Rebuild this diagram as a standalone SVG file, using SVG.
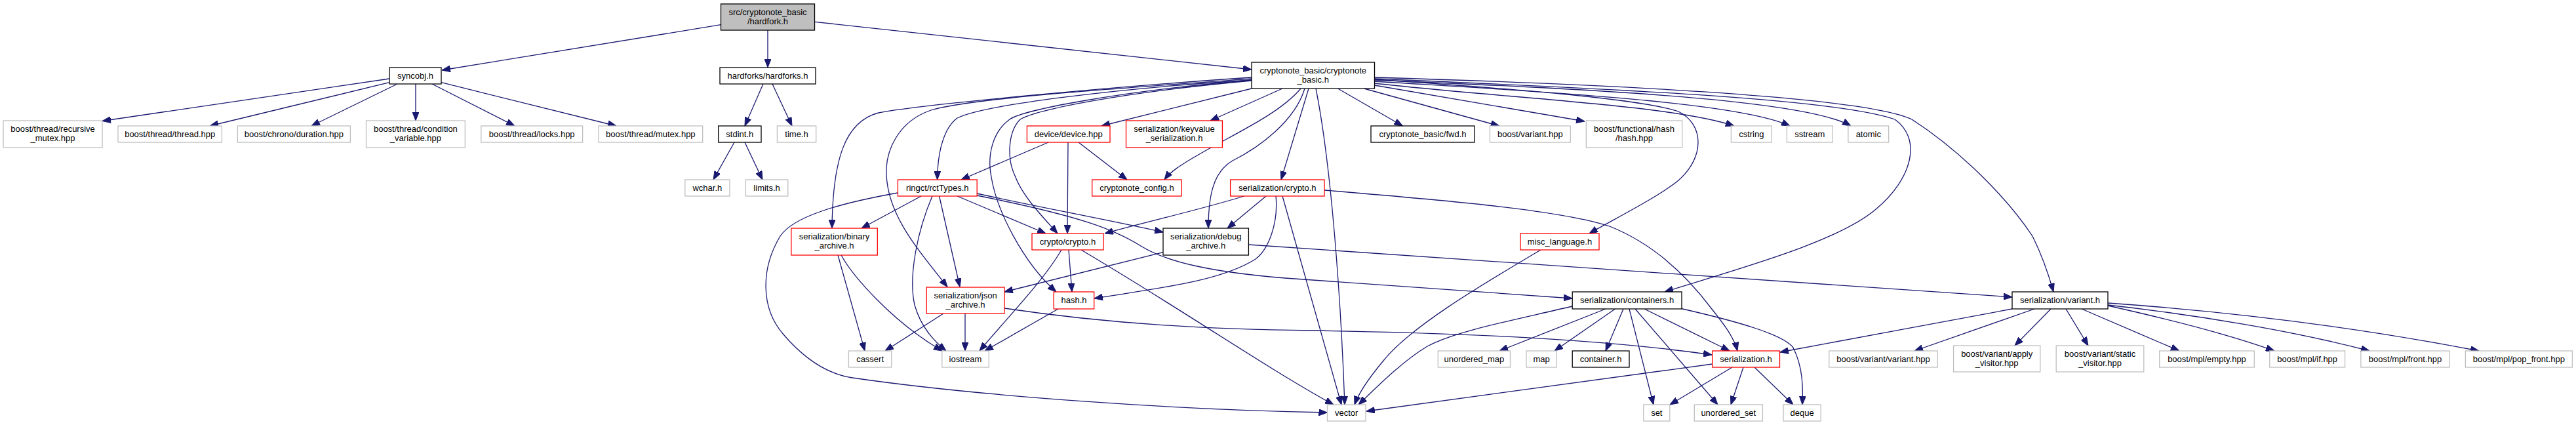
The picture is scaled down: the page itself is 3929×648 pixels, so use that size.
<svg xmlns="http://www.w3.org/2000/svg" width="3929" height="648" viewBox="0 0 3929 648">
<style>
rect{fill:#fff;stroke-width:1.3}
.k rect{stroke:#000}
.r rect{stroke:#ff0000}
.g rect{stroke:#bfbfbf}
.root rect{fill:#bfbfbf;stroke:#000}
text{font-family:"Liberation Sans",Arial,sans-serif;font-size:13px;text-anchor:middle;fill:#000}
#edges path{fill:none;stroke:#191970;stroke-width:1.3;marker-end:url(#ah)}
</style>
<defs>
<marker id="ah" viewBox="0 0 13 10" refX="13" refY="5" markerWidth="13" markerHeight="10" markerUnits="userSpaceOnUse" orient="auto">
<path d="M0,0 L13,5 L0,10 z" fill="#191970" stroke="#191970" stroke-width="1"/>
</marker>
</defs>
<rect x="0" y="0" width="3929" height="648" style="fill:#fff;stroke:none"/>
<g id="edges">
<path d="M1099.5,37.7 L674,107"/>
<path d="M1171,46 L1171,103"/>
<path d="M1242.6,33.3 L1909,106"/>
<path d="M594,120 L156,184.5"/>
<path d="M594,125.7 L320,192"/>
<path d="M606,128 L475,192"/>
<path d="M634,128 L634,184"/>
<path d="M659,128 L785,192"/>
<path d="M673,125.7 L940,192"/>
<path d="M1164,128 L1136,192"/>
<path d="M1178,128 L1208,192"/>
<path d="M1120,217 L1088,274"/>
<path d="M1136,217 L1163,274"/>
<path d="M1909,118 C1700,132 1400,160 1340,172 C1290,185 1270,240 1269,348"/>
<path d="M1909,120 C1700,135 1480,150 1420,168 C1370,185 1350,230 1352,267 C1355,330 1400,380 1445,437.5"/>
<path d="M1909,122 C1700,135 1500,160 1460,180 C1440,195 1430,230 1429.6,274"/>
<path d="M1909,122 C1700,140 1560,168 1540,182 C1515,200 1505,235 1512,270 C1520,320 1560,400 1611,445"/>
<path d="M1909,123 C1700,142 1580,168 1556,182 C1538,200 1535,240 1548,268 C1560,300 1590,330 1613,356"/>
<path d="M1909,135 L1680,192"/>
<path d="M1956,135 L1846,184"/>
<path d="M1984,135 C1950,175 1880,205 1826,237 C1800,252 1785,262 1776,274"/>
<path d="M1990,135 C1975,185 1920,225 1880,245 C1850,262 1843,300 1843,348"/>
<path d="M1996,135 L1954,274"/>
<path d="M2007,135 C2030,250 2045,450 2051,617"/>
<path d="M2040.5,135 L2139.4,192"/>
<path d="M2080.5,135 L2286.7,192"/>
<path d="M2096.5,130 L2417,185"/>
<path d="M2096.5,127 C2300,150 2550,160 2645,192"/>
<path d="M2096.5,124 C2350,140 2650,155 2730,192"/>
<path d="M2096.5,122 C2400,135 2750,150 2823,192"/>
<path d="M2096.5,120 C2450,135 2800,150 2890,182 C2930,210 2920,270 2860,320 C2800,370 2650,410 2539,445"/>
<path d="M2096.5,118 C2500,130 2850,150 2916,182 C2990,230 3060,300 3100,360 C3115,390 3125,420 3132,445"/>
<path d="M2096.5,121 C2300,135 2500,150 2560,170 C2600,190 2600,240 2560,275 C2530,300 2460,335 2424,356"/>
<path d="M1405,299 L1314,348"/>
<path d="M1422,299 C1400,350 1385,420 1395,465 C1405,500 1425,520 1443,535"/>
<path d="M1432.6,299 L1464,437.5"/>
<path d="M1460,299 L1595,356"/>
<path d="M1490,295 C1580,315 1690,335 1774,354"/>
<path d="M1490,298 C1650,330 1700,350 1740,375 C1780,400 1850,415 1960,424 C2150,437 2300,447 2398,455"/>
<path d="M1369.4,294 C1280,310 1210,330 1190,360 C1160,410 1160,470 1195,510 C1225,545 1260,570 1300,576 C1500,605 1800,625 2024.5,629"/>
<path d="M1599,217 L1466,274"/>
<path d="M1629,217 L1628,356"/>
<path d="M1645,217 L1719,274"/>
<path d="M1897.6,299 C1830,320 1740,340 1685,356"/>
<path d="M1931,299 L1872,348"/>
<path d="M1946,299 C1950,340 1935,380 1915,395 C1860,430 1760,440 1669,455"/>
<path d="M1956,299 L2046,617"/>
<path d="M2020,290 C2200,305 2380,320 2455,345 C2530,375 2580,430 2610,470 C2630,495 2645,515 2650,535"/>
<path d="M1774,384.7 L1532,445"/>
<path d="M1904.4,373 L3069,453"/>
<path d="M1619,381 C1590,430 1540,480 1494,535"/>
<path d="M1630,381 L1635,445"/>
<path d="M1649,381 C1800,470 1930,560 2034,617"/>
<path d="M1278,389 L1319,535"/>
<path d="M1283,389 C1300,420 1360,490 1437,535"/>
<path d="M1439,478 L1350,535"/>
<path d="M1472,478 L1472,535"/>
<path d="M1532,470 C1700,495 1850,502 2000,504 C2250,508 2450,518 2611,541"/>
<path d="M1614,471 L1502,535"/>
<path d="M2350,381 C2250,440 2150,500 2110,550 C2085,580 2072,600 2066,617"/>
<path d="M2398,467 C2300,490 2220,505 2177,528 C2140,550 2100,590 2072,617"/>
<path d="M2449,471 L2287,535"/>
<path d="M2463.5,471 L2371,535"/>
<path d="M2476,471 L2449,535"/>
<path d="M2485,471 L2522,617"/>
<path d="M2494,471 L2620,617"/>
<path d="M2508,471 L2638,535"/>
<path d="M2562,470 C2650,490 2720,510 2735,530 C2750,560 2750,590 2749,617"/>
<path d="M2611.8,555 L2084,627"/>
<path d="M2642,560 L2547,617"/>
<path d="M2659,560 L2640,617"/>
<path d="M2676,560 L2735,617"/>
<path d="M3069,471 L2715,537"/>
<path d="M3103,471 L2920,535"/>
<path d="M3128,471 L3073,527"/>
<path d="M3151,471 L3185,527"/>
<path d="M3175,471 L3324,535"/>
<path d="M3215,466 C3300,485 3400,510 3469,535"/>
<path d="M3215,465 C3350,480 3500,505 3614,535"/>
<path d="M3215,462 C3400,475 3600,500 3781,535"/>
</g>
<g id="n_hardfork" class="root"><rect x="1099.5" y="6" width="143" height="40"/><text x="1171" y="22.5">src/cryptonote_basic</text><text x="1171" y="36.5">/hardfork.h</text></g>
<g id="n_syncobj" class="k"><rect x="594" y="103" width="79" height="25"/><text x="633.5" y="120">syncobj.h</text></g>
<g id="n_hardforks" class="k"><rect x="1098" y="103" width="146" height="25"/><text x="1171" y="120">hardforks/hardforks.h</text></g>
<g id="n_cnbasic" class="k"><rect x="1909" y="95" width="187.5" height="40"/><text x="2002.7" y="111.5">cryptonote_basic/cryptonote</text><text x="2002.7" y="125.5">_basic.h</text></g>
<g id="n_recmutex" class="g"><rect x="5" y="184" width="151" height="41"/><text x="80.5" y="201">boost/thread/recursive</text><text x="80.5" y="215">_mutex.hpp</text></g>
<g id="n_thread" class="g"><rect x="180" y="192" width="158.4" height="25"/><text x="259.2" y="209">boost/thread/thread.hpp</text></g>
<g id="n_duration" class="g"><rect x="362.4" y="192" width="172" height="25"/><text x="448.4" y="209">boost/chrono/duration.hpp</text></g>
<g id="n_condvar" class="g"><rect x="558.5" y="184" width="150.8" height="41"/><text x="633.9" y="201">boost/thread/condition</text><text x="633.9" y="215">_variable.hpp</text></g>
<g id="n_locks" class="g"><rect x="733.8" y="192" width="154.8" height="25"/><text x="811.2" y="209">boost/thread/locks.hpp</text></g>
<g id="n_mutex" class="g"><rect x="913" y="192" width="158.7" height="25"/><text x="992.3" y="209">boost/thread/mutex.hpp</text></g>
<g id="n_stdint" class="k"><rect x="1095.7" y="192" width="65.3" height="25"/><text x="1128.3" y="209">stdint.h</text></g>
<g id="n_time" class="g"><rect x="1185.4" y="192" width="59.3" height="25"/><text x="1215" y="209">time.h</text></g>
<g id="n_device" class="r"><rect x="1566.4" y="192" width="126.6" height="25"/><text x="1629.7" y="209">device/device.hpp</text></g>
<g id="n_keyvalue" class="r"><rect x="1717.5" y="184" width="146.9" height="41"/><text x="1791" y="201">serialization/keyvalue</text><text x="1791" y="215">_serialization.h</text></g>
<g id="n_fwd" class="k"><rect x="2091" y="192" width="158" height="25"/><text x="2170" y="209">cryptonote_basic/fwd.h</text></g>
<g id="n_bvariant" class="g"><rect x="2272.4" y="192" width="122.9" height="25"/><text x="2333.8" y="209">boost/variant.hpp</text></g>
<g id="n_bhash" class="g"><rect x="2419.3" y="184" width="146.4" height="41"/><text x="2492.5" y="201">boost/functional/hash</text><text x="2492.5" y="215">/hash.hpp</text></g>
<g id="n_cstring" class="g"><rect x="2640.4" y="192" width="61.9" height="25"/><text x="2671.3" y="209">cstring</text></g>
<g id="n_sstream" class="g"><rect x="2725.4" y="192" width="69.9" height="25"/><text x="2760.3" y="209">sstream</text></g>
<g id="n_atomic" class="g"><rect x="2818.9" y="192" width="61.8" height="25"/><text x="2849.8" y="209">atomic</text></g>
<g id="n_wchar" class="g"><rect x="1044.8" y="274" width="68.2" height="25"/><text x="1078.9" y="291">wchar.h</text></g>
<g id="n_limits" class="g"><rect x="1137.4" y="274" width="64.4" height="25"/><text x="1169.6" y="291">limits.h</text></g>
<g id="n_rcttypes" class="r"><rect x="1369.4" y="274" width="120.8" height="25"/><text x="1429.8" y="291">ringct/rctTypes.h</text></g>
<g id="n_config" class="r"><rect x="1665.7" y="274" width="136.4" height="25"/><text x="1733.9" y="291">cryptonote_config.h</text></g>
<g id="n_sercrypto" class="r"><rect x="1876.6" y="274" width="143.4" height="25"/><text x="1948.3" y="291">serialization/crypto.h</text></g>
<g id="n_binarch" class="r"><rect x="1206.8" y="348" width="131.5" height="41"/><text x="1272.5" y="365">serialization/binary</text><text x="1272.5" y="379">_archive.h</text></g>
<g id="n_crypto" class="r"><rect x="1574" y="356" width="109" height="25"/><text x="1628.5" y="373">crypto/crypto.h</text></g>
<g id="n_debugarch" class="k"><rect x="1774" y="348" width="130.4" height="41"/><text x="1839.2" y="365">serialization/debug</text><text x="1839.2" y="379">_archive.h</text></g>
<g id="n_misclang" class="r"><rect x="2319" y="356" width="120" height="25"/><text x="2379" y="373">misc_language.h</text></g>
<g id="n_jsonarch" class="r"><rect x="1413.2" y="438" width="118.8" height="40"/><text x="1472.6" y="454.5">serialization/json</text><text x="1472.6" y="468.5">_archive.h</text></g>
<g id="n_hash" class="r"><rect x="1607.2" y="445" width="61.5" height="26"/><text x="1638" y="462">hash.h</text></g>
<g id="n_containers" class="k"><rect x="2398.2" y="445" width="166.8" height="26"/><text x="2481.6" y="462">serialization/containers.h</text></g>
<g id="n_servariant" class="k"><rect x="3069" y="445" width="146" height="26"/><text x="3142" y="462">serialization/variant.h</text></g>
<g id="n_cassert" class="g"><rect x="1294.4" y="535" width="65.4" height="25"/><text x="1327.1" y="552">cassert</text></g>
<g id="n_iostream" class="g"><rect x="1436.8" y="535" width="71.5" height="25"/><text x="1472.5" y="552">iostream</text></g>
<g id="n_umap" class="g"><rect x="2193.3" y="535" width="110.2" height="25"/><text x="2248.4" y="552">unordered_map</text></g>
<g id="n_map" class="g"><rect x="2328" y="535" width="46.2" height="25"/><text x="2351.1" y="552">map</text></g>
<g id="n_container" class="k"><rect x="2398.2" y="535" width="86.8" height="25"/><text x="2441.6" y="552">container.h</text></g>
<g id="n_serialization" class="r"><rect x="2611.8" y="535" width="102.7" height="25"/><text x="2663.1" y="552">serialization.h</text></g>
<g id="n_vvariant" class="g"><rect x="2789.8" y="535" width="165.4" height="25"/><text x="2872.5" y="552">boost/variant/variant.hpp</text></g>
<g id="n_apply" class="g"><rect x="2979.6" y="527" width="132.2" height="40"/><text x="3045.7" y="543.5">boost/variant/apply</text><text x="3045.7" y="557.5">_visitor.hpp</text></g>
<g id="n_static" class="g"><rect x="3136.2" y="527" width="133.6" height="40"/><text x="3203" y="543.5">boost/variant/static</text><text x="3203" y="557.5">_visitor.hpp</text></g>
<g id="n_empty" class="g"><rect x="3293.7" y="535" width="144.6" height="25"/><text x="3366" y="552">boost/mpl/empty.hpp</text></g>
<g id="n_if" class="g"><rect x="3461.8" y="535" width="114.8" height="25"/><text x="3519.2" y="552">boost/mpl/if.hpp</text></g>
<g id="n_front" class="g"><rect x="3600.9" y="535" width="135.2" height="25"/><text x="3668.5" y="552">boost/mpl/front.hpp</text></g>
<g id="n_popfront" class="g"><rect x="3760.4" y="535" width="163" height="25"/><text x="3841.9" y="552">boost/mpl/pop_front.hpp</text></g>
<g id="n_vector" class="g"><rect x="2024.5" y="617" width="58.5" height="25"/><text x="2053.7" y="634">vector</text></g>
<g id="n_set" class="g"><rect x="2506.8" y="617" width="40" height="25"/><text x="2526.8" y="634">set</text></g>
<g id="n_uset" class="g"><rect x="2584.3" y="617" width="104.1" height="25"/><text x="2636.3" y="634">unordered_set</text></g>
<g id="n_deque" class="g"><rect x="2720" y="617" width="57.2" height="25"/><text x="2748.6" y="634">deque</text></g>
</svg>
